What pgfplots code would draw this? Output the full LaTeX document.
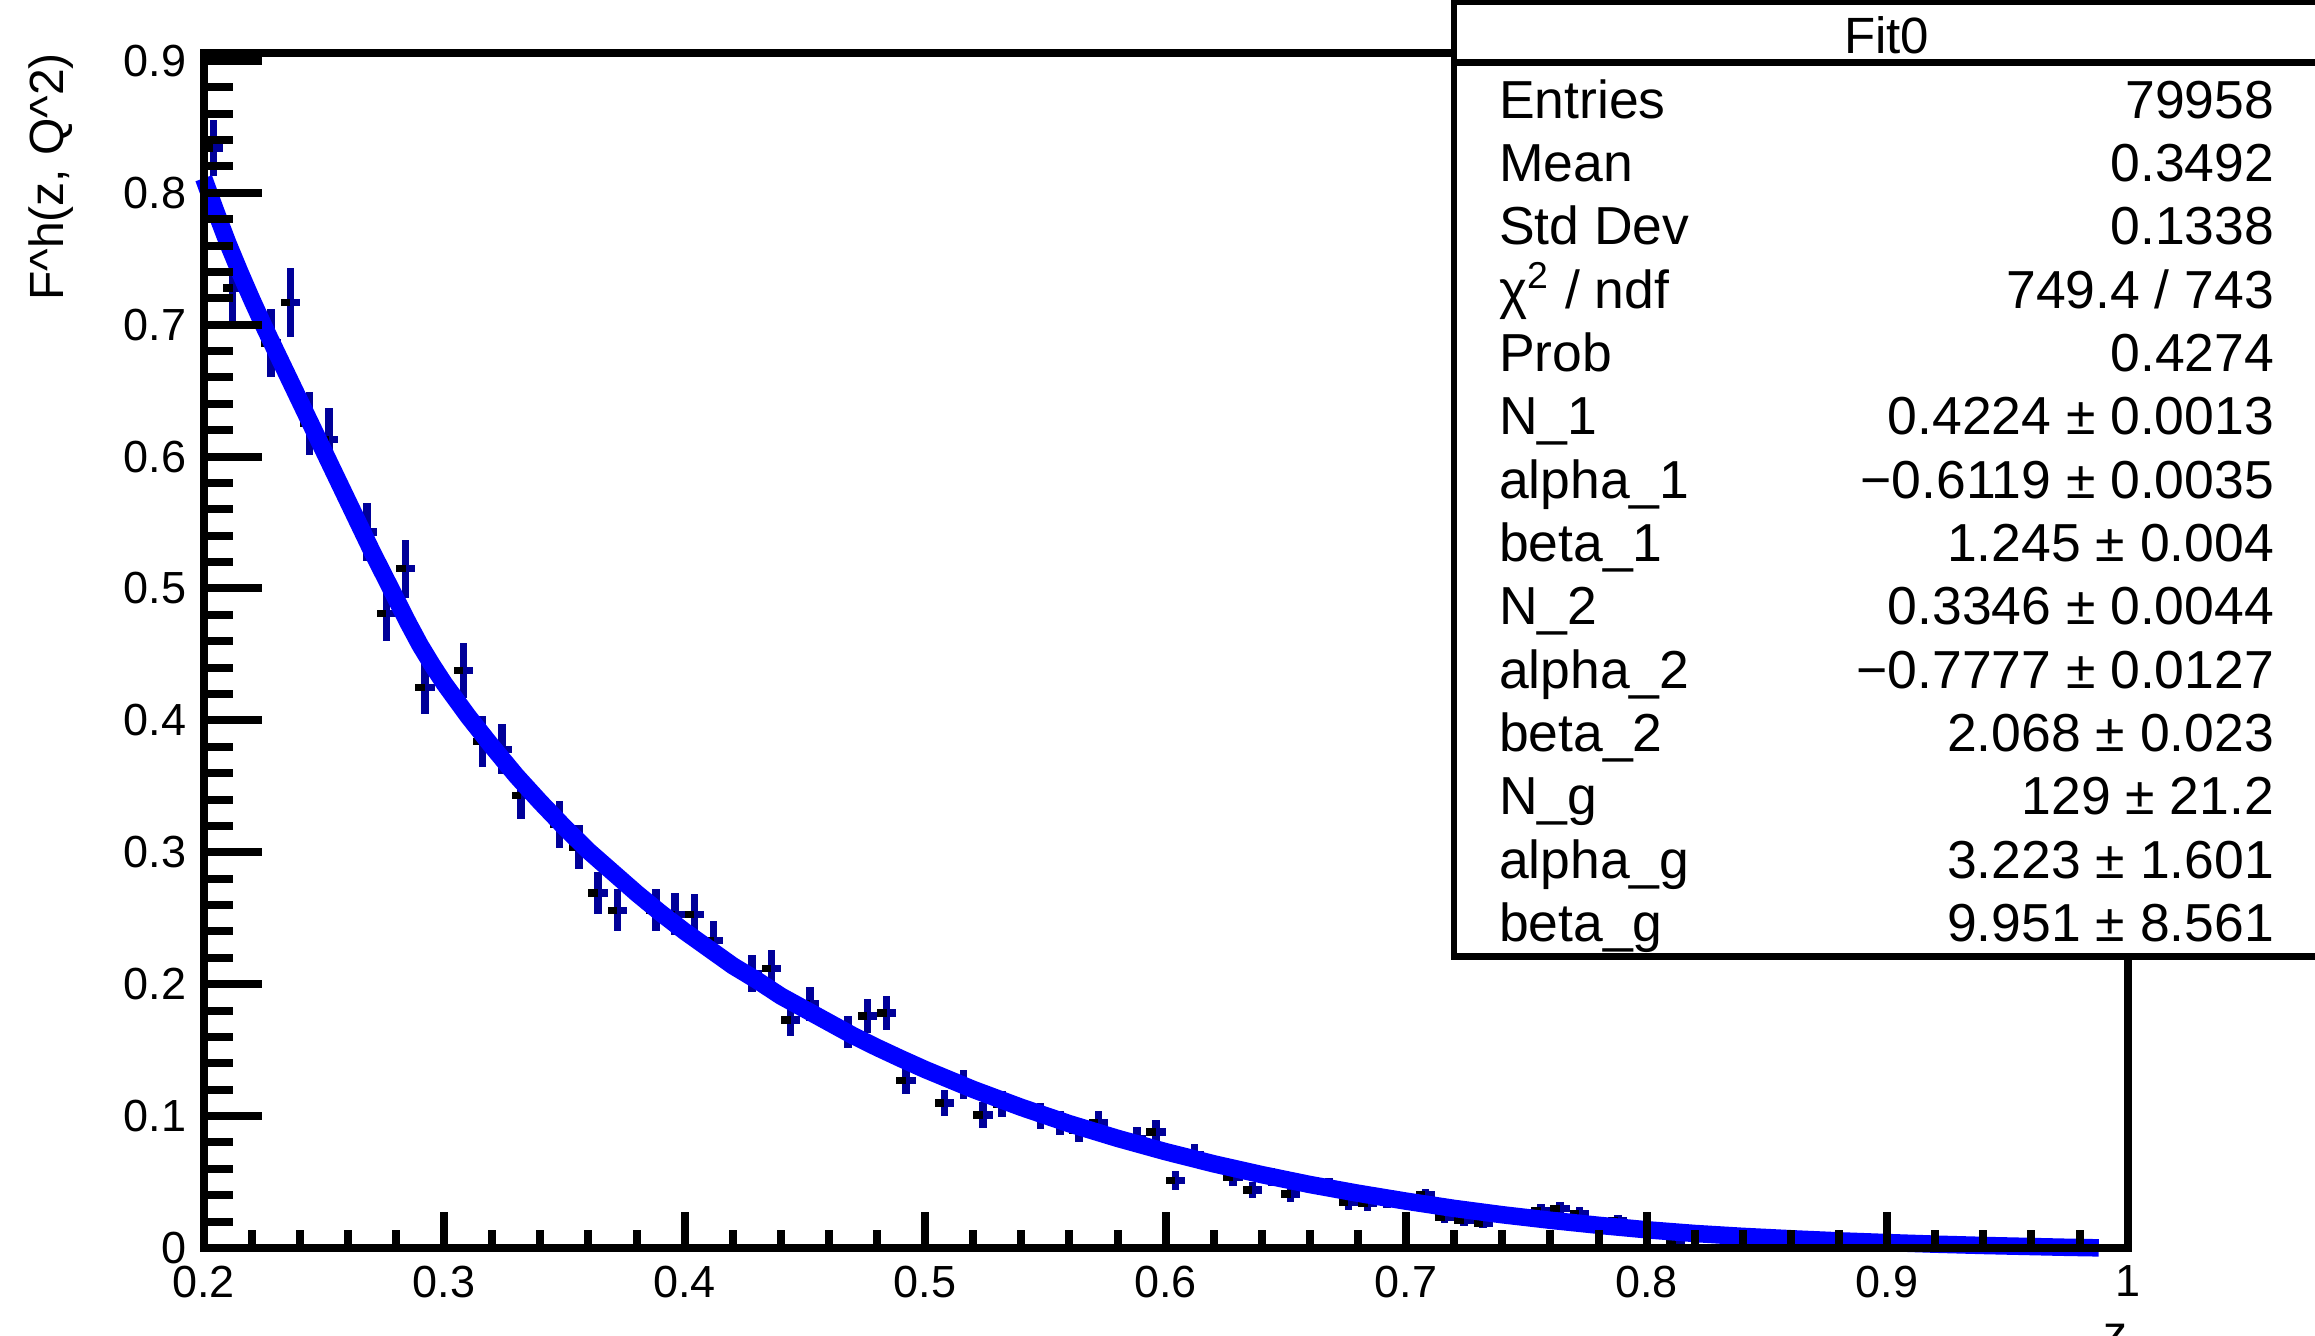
\documentclass[border=0pt]{standalone}
\usepackage{fontspec}
\setmainfont{Liberation Sans}
\usepackage{pgfplots}
\usepackage{pgfplotstable}
\pgfplotsset{compat=1.18}
\definecolor{rootblue}{RGB}{0,0,255}
\definecolor{rootnavy}{RGB}{0,0,153}

% histogram bins: centre, content, error
\pgfplotstableread{
z F err
0.204 0.834 0.021
0.212 0.728 0.025
0.228 0.686 0.026
0.236 0.717 0.026
0.244 0.625 0.024
0.252 0.613 0.024
0.268 0.543 0.022
0.276 0.481 0.021
0.284 0.515 0.022
0.292 0.425 0.020
0.308 0.438 0.021
0.316 0.384 0.019
0.324 0.378 0.019
0.332 0.343 0.018
0.348 0.321 0.018
0.356 0.304 0.017
0.364 0.269 0.016
0.372 0.256 0.016
0.388 0.256 0.016
0.396 0.253 0.016
0.404 0.253 0.015
0.412 0.233 0.015
0.428 0.208 0.014
0.436 0.212 0.014
0.444 0.173 0.012
0.452 0.185 0.013
0.468 0.164 0.012
0.476 0.176 0.013
0.484 0.178 0.013
0.492 0.127 0.010
0.508 0.110 0.010
0.516 0.124 0.011
0.524 0.101 0.010
0.532 0.109 0.010
0.548 0.100 0.010
0.556 0.095 0.009
0.564 0.089 0.009
0.572 0.095 0.009
0.588 0.083 0.009
0.596 0.088 0.009
0.604 0.051 0.007
0.612 0.071 0.008
0.628 0.054 0.007
0.636 0.044 0.006
0.644 0.054 0.007
0.652 0.041 0.006
0.668 0.047 0.006
0.676 0.035 0.006
0.684 0.034 0.006
0.692 0.036 0.006
0.708 0.040 0.005
0.716 0.023 0.004
0.724 0.021 0.004
0.732 0.019 0.004
0.748 0.024 0.004
0.756 0.028 0.005
0.764 0.030 0.005
0.772 0.026 0.005
0.788 0.021 0.004
0.796 0.016 0.004
0.804 0.014 0.004
0.812 0.004 0.002
0.828 0.010 0.003
0.836 0.009 0.003
0.844 0.0085 0.003
0.852 0.0078 0.003
0.868 0.0064 0.002
0.876 0.0058 0.002
0.884 0.0050 0.002
0.892 0.0045 0.002
0.908 0.0036 0.002
0.916 0.0031 0.002
0.924 0.0027 0.0015
0.932 0.0022 0.0015
0.948 0.0015 0.001
0.956 0.0012 0.001
0.964 0.0009 0.001
0.972 0.0006 0.001
0.988 0.0002 0.0005
0.996 0.0001 0.0003
}\histo

% fitted function
\pgfplotstableread{
z F
0.200 0.811
0.205 0.786
0.210 0.762
0.215 0.740
0.220 0.719
0.225 0.699
0.230 0.680
0.235 0.661
0.240 0.642
0.245 0.623
0.250 0.604
0.255 0.585
0.260 0.566
0.265 0.547
0.270 0.528
0.275 0.510
0.280 0.492
0.285 0.474
0.290 0.457
0.295 0.442
0.300 0.428
0.310 0.403
0.320 0.380
0.330 0.358
0.340 0.338
0.350 0.319
0.360 0.301
0.370 0.285
0.380 0.269
0.390 0.254
0.400 0.240
0.410 0.227
0.420 0.214
0.430 0.203
0.440 0.191
0.450 0.181
0.460 0.171
0.470 0.161
0.480 0.152
0.490 0.1435
0.500 0.1353
0.520 0.1202
0.540 0.1066
0.560 0.0942
0.580 0.0831
0.600 0.0730
0.620 0.0638
0.640 0.0556
0.660 0.0481
0.680 0.0415
0.700 0.0355
0.720 0.0300
0.740 0.0252
0.760 0.0210
0.780 0.0172
0.800 0.0138
0.820 0.0110
0.840 0.0088
0.860 0.0070
0.880 0.0054
0.900 0.0041
0.920 0.0029
0.940 0.0019
0.960 0.0011
0.975 0.0005
0.988 0.0001
}\fitcurve

\begin{document}
\begin{tikzpicture}[x=1pt,y=1pt]
\useasboundingbox (0,0) rectangle (463,267.2);
\begin{axis}[
    at={(40.74pt,17.6pt)}, anchor=south west,
    scale only axis,
    width=384.8pt, height=239pt,
    xmin=0.2, xmax=1, ymin=0, ymax=0.906,
    xtick={0.2,0.3,0.4,0.5,0.6,0.7,0.8,0.9,1},
    ytick={0,0.1,0.2,0.3,0.4,0.5,0.6,0.7,0.8,0.9},
    minor tick num=4,
    xtick pos=left, ytick pos=left,
    tick align=inside,
    scaled ticks=false,
    axis on top,
    clip=false,
    axis line style={line width=1.6pt},
    tick style={black, line width=1.6pt},
    xtick style={/pgfplots/major tick length=7.2pt, /pgfplots/minor tick length=3.6pt},
    ytick style={/pgfplots/major tick length=11.6pt, /pgfplots/minor tick length=5.8pt},
    /pgf/number format/assume math mode=true,
    ticklabel style={font=\fontsize{9}{10}\selectfont},
]
% navy part: vertical error and right half of the bin
\addplot[draw=none, mark=none,
    error bars/.cd, y dir=both, y explicit, x dir=plus, x fixed=0.004,
    error mark=none, error bar style={draw=rootnavy, line width=1.5pt}]
    table[x=z, y=F, y error=err] {\histo};
% black part: left half of the bin
\addplot[draw=none, mark=none,
    error bars/.cd, y dir=none, x dir=minus, x fixed=0.004,
    error mark=none, error bar style={draw=black, line width=1.5pt}]
    table[x=z, y=F] {\histo};
% fit
\addplot[rootblue, line width=3.5pt, line join=round] table[x=z, y=F] {\fitcurve};
\end{axis}

% axis titles
\node[rotate=90, anchor=base east, inner sep=0, font=\fontsize{9.6}{11}\selectfont]
    at (12.7,256.8) {F\textasciicircum h(z, Q\textasciicircum 2)};
\node[anchor=north, inner sep=0, font=\fontsize{9.6}{11}\selectfont] at (423,2.6) {z};

% stats box
\fill[white] (290.8,75.9) rectangle (470,266.8);
\draw[line width=1.3pt] (470,266.8) -- (290.8,266.8) -- (290.8,75.9) -- (470,75.9);
\draw[line width=1.3pt] (290.8,254.7) -- (470,254.7);
\node[anchor=base, inner sep=0, font=\fontsize{10.2}{12}\selectfont] at (377.3,256.5) {Fit0};
\begin{scope}[every node/.style={inner sep=0, font=\fontsize{10.7}{12}\selectfont}]
\foreach \lab/\val [count=\i from 0] in {
    Entries/79958,
    Mean/0.3492,
    Std Dev/0.1338,
    {χ\textsuperscript{2} / ndf}/{749.4 / 743},
    Prob/0.4274,
    N\_1/0.4224 ± 0.0013,
    alpha\_1/−0.6119 ± 0.0035,
    beta\_1/1.245 ± 0.004,
    N\_2/0.3346 ± 0.0044,
    alpha\_2/−0.7777 ± 0.0127,
    beta\_2/2.068 ± 0.023,
    N\_g/129 ± 21.2,
    alpha\_g/3.223 ± 1.601,
    beta\_g/9.951 ± 8.561}{
  \node[anchor=base west] at (299.6,243.54-12.667*\i) {\lab};
  \node[anchor=base east] at (455.0,243.54-12.667*\i) {\val};
}
\end{scope}
\end{tikzpicture}
\end{document}
